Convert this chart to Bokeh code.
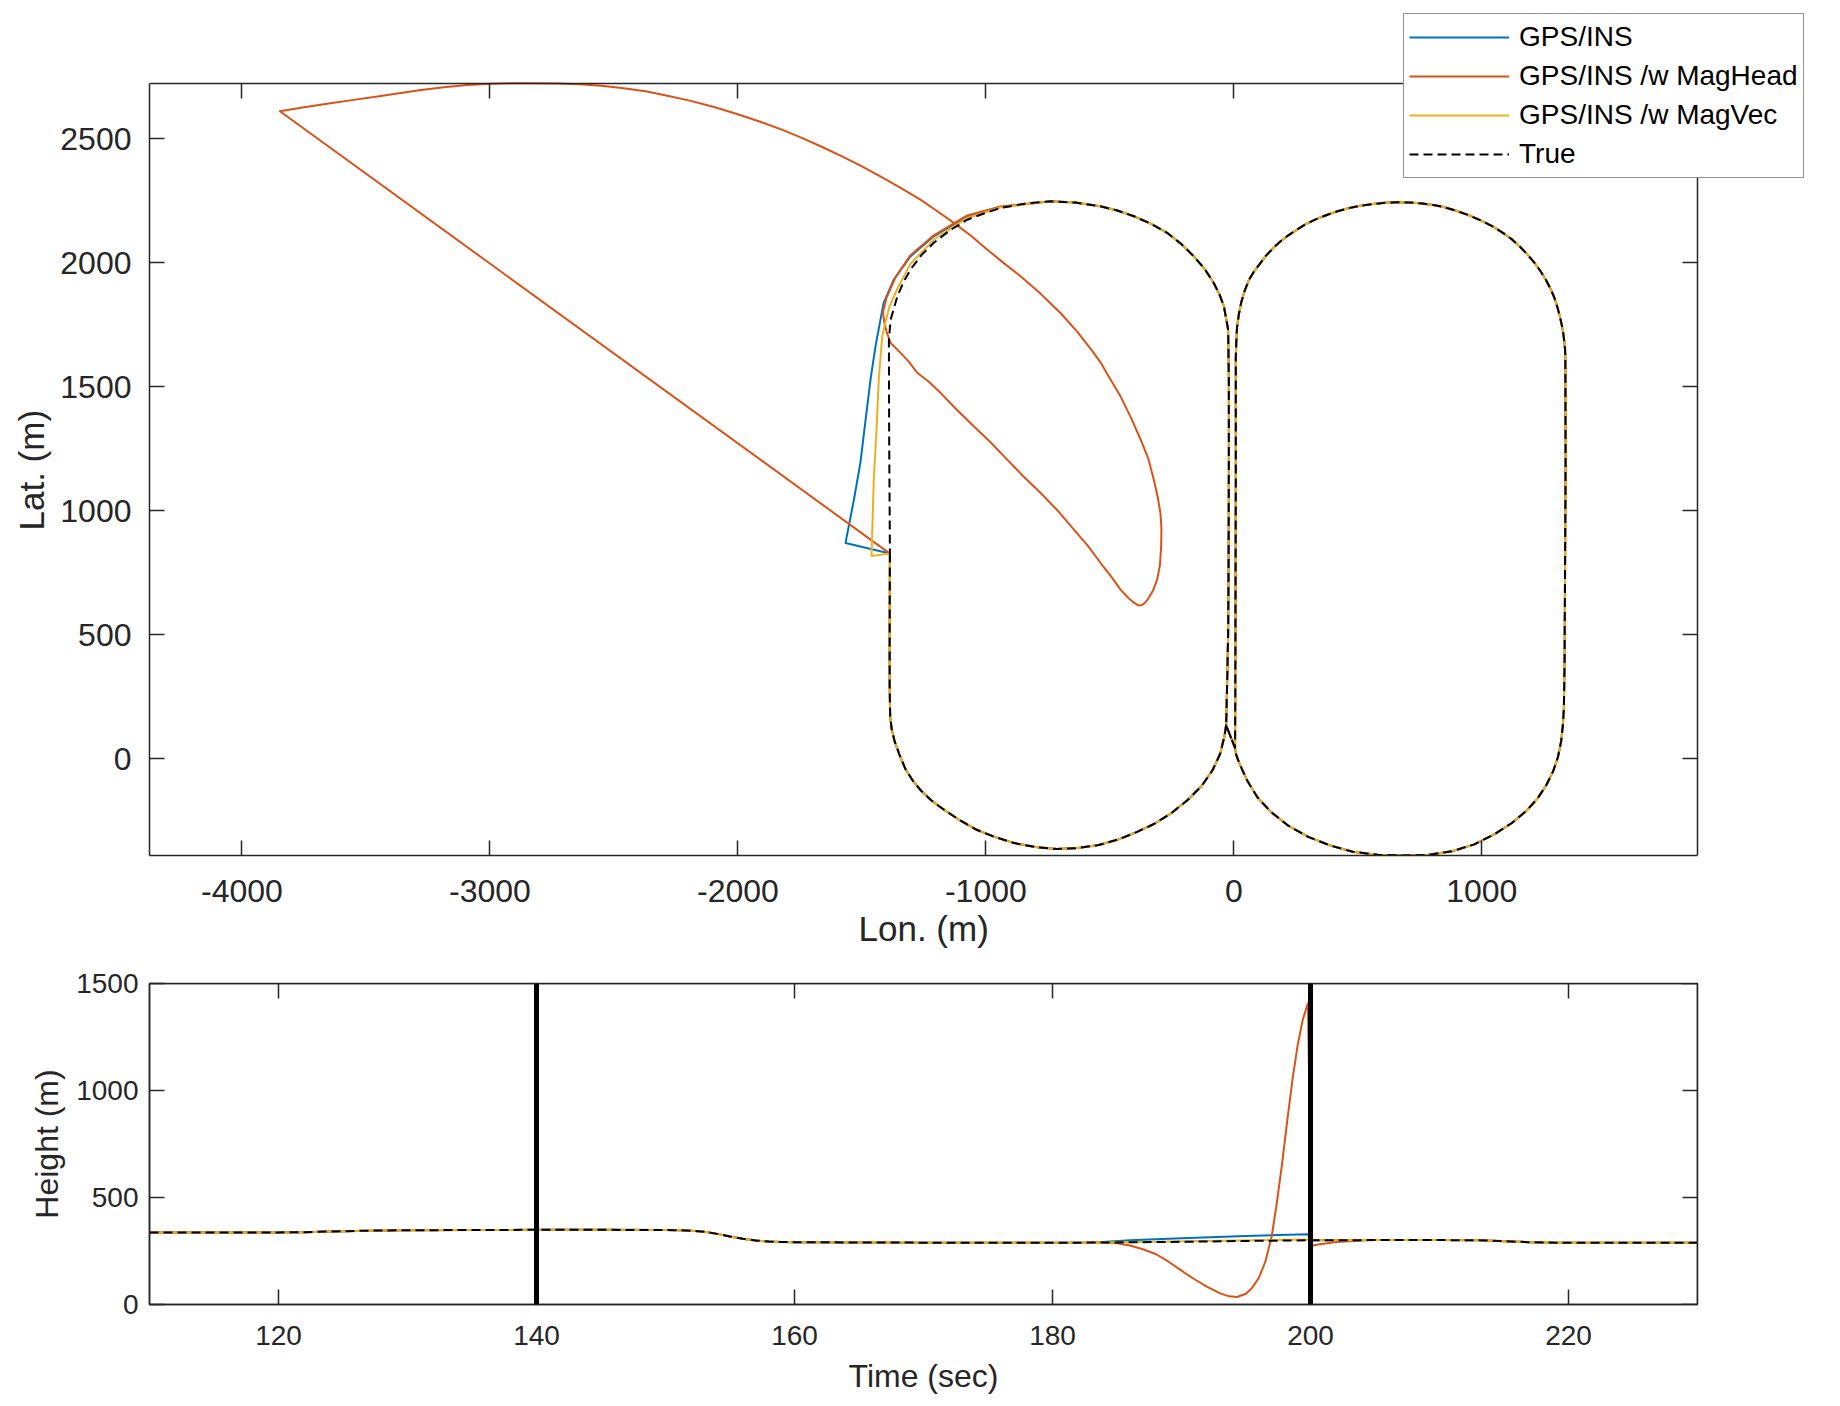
from bokeh.plotting import figure
from bokeh.models import (Range1d, LinearAxis, FixedTicker, Legend, LegendItem,
                          Span, CustomJSTickFormatter, Title)
from bokeh.layouts import column
from bokeh.embed import file_html
from bokeh.resources import INLINE

# ---------------- data ----------------
# Left loop of the true track (counter-clockwise), starting at the GPS re-acquisition point
loopL_x = [-1387, -1388, -1388, -1386, -1380, -1368, -1348, -1325, -1295, -1260, -1215, -1165,
           -1105, -1040, -965, -885, -800, -715, -630, -545, -465, -390, -320, -250, -185,
           -130, -85, -55, -38, -31,
           -27, -23, -21, -20, -20, -23, -40, -58, -81, -118, -161, -212, -269, -335, -403,
           -470, -538, -640, -739,
           -840, -941, -1008, -1075, -1145, -1210, -1260, -1304, -1333, -1357, -1384, -1391,
           -1390, -1388]
loopL_y = [827, 500, 300, 172, 120, 70, 15, -40, -88, -130, -172, -208,
           -248, -285, -315, -340, -356, -364, -360, -348, -325, -295, -262, -218, -165,
           -110, -45, 20, 90, 135,
           300, 500, 800, 1200, 1529, 1730, 1824, 1872, 1918, 1975, 2025, 2075, 2120, 2157, 2187,
           2210, 2227, 2242, 2247,
           2238, 2220, 2198, 2173, 2130, 2080, 2030, 1972, 1920, 1864, 1770, 1690,
           1300, 1000]
LINK_IDX = 29      # point where the track passes to the right loop
OUTAGE_IDX = 48    # point where the estimates begin to separate

# Right loop of the true track (clockwise), starting at the bottom of its left side
loopR_x = [5, 6, 7, 8, 8, 8, 10, 13, 20, 30, 44, 62, 82, 105, 130, 160, 190, 220, 255, 290, 330,
           375, 418, 461, 510, 560, 610, 661, 710, 760, 805, 846, 900, 950, 1000, 1046, 1085,
           1120, 1153, 1184, 1212, 1237, 1259, 1277, 1293, 1305, 1315, 1323, 1329, 1333, 1336,
           1337, 1338, 1336, 1334, 1331,
           1327, 1320, 1307, 1288, 1261, 1225, 1180, 1120, 1050, 970, 880, 780, 680, 580,
           480, 390, 300, 220, 150, 95, 55, 25, 10, 5]
loopR_y = [43, 300, 700, 1100, 1450, 1617, 1680, 1740, 1790, 1840, 1887, 1932, 1965, 1995, 2028,
           2060, 2087, 2110, 2133, 2155, 2174, 2192, 2207, 2219, 2229, 2236, 2241, 2243, 2242,
           2238, 2232, 2224, 2208, 2190, 2168, 2145, 2120, 2095, 2065, 2033, 2000, 1965, 1930,
           1895, 1858, 1820, 1783, 1746, 1713, 1680, 1648,
           1617, 1200, 800, 400, 200,
           135, 70, 6, -50, -105, -160, -210, -260, -305, -345,
           -373, -388, -390, -387, -375, -350, -315, -270, -215, -155, -90, -25, 15, 43]

# Drift of each solution during the GPS outage
ins_dev_x = [-941, -1075, -1210, -1304, -1371, -1412, -1425, -1445, -1465, -1485, -1506, -1532, -1566]
ins_dev_y = [2224, 2187, 2106, 2025, 1932, 1838, 1770, 1663, 1529, 1367, 1193, 1045, 870]

vec_dev_x = [-941, -1075, -1210, -1304, -1357, -1390, -1405, -1418, -1432, -1441, -1452, -1461]
vec_dev_y = [2222, 2180, 2092, 1995, 1895, 1820, 1760, 1703, 1529, 1327, 1126, 817]

head_dev_x = [-941, -1075, -1210, -1304, -1365, -1400, -1415, -1410, -1400, -1384, -1344, -1310,
              -1277, -1230, -1183, -1120, -1049, -980, -914, -850, -780, -710, -645, -590, -538,
              -495, -457, -425, -403, -385, -370, -355, -343, -325, -309, -298, -293, -292, -296,
              -308, -323, -345, -376, -415, -457, -510, -535, -565, -630, -699, -740, -780, -860,
              -930, -995, -1060, -1129, -1200, -1264, -1344, -1420, -1500, -1580, -1660, -1740,
              -1820, -1910, -2007, -2100, -2190, -2280, -2367, -2460, -2550, -2640, -2727, -2820,
              -2910, -2997, -3090, -3177, -3270, -3360, -3447, -3550, -3650, -3750, -3847]
head_dev_y = [2226, 2190, 2110, 2030, 1940, 1860, 1800, 1760, 1720, 1676, 1636, 1600,
              1556, 1520, 1475, 1410, 1340, 1275, 1206, 1140, 1072, 1000, 924, 860, 790,
              735, 682, 648, 629, 618, 620, 632, 649, 680, 723, 780, 857, 930, 991,
              1060, 1126, 1210, 1287, 1375, 1461, 1550, 1594, 1636, 1720, 1797, 1836, 1875, 1945,
              2000, 2053, 2108, 2160, 2210, 2254, 2301, 2345, 2388, 2428, 2466, 2502,
              2535, 2568, 2600, 2628, 2652, 2672, 2690, 2703, 2713, 2719, 2722, 2723,
              2723, 2721, 2716, 2708, 2697, 2684, 2671, 2656, 2641, 2626, 2610]

# Height versus time
true_t = [110, 115, 120, 122, 124, 126, 128, 130, 135, 140, 145, 150, 151, 152, 153, 154, 155,
          156, 157, 158, 159, 160, 165, 170, 175, 180, 182, 185, 190, 195, 200, 205, 210, 213,
          215, 217, 219, 222, 226, 230]
true_h = [337, 337, 337, 338, 341, 344, 346, 347, 348, 349, 349, 348, 347, 345, 340, 330, 318,
          307, 299, 294, 292, 291, 290, 289, 288, 288, 289, 290, 293, 297, 300, 301, 301, 300,
          296, 291, 289, 288, 288, 288]

ins_t = [183, 186, 190, 195, 199.8]
ins_h = [289, 300, 310, 320, 328]

vec_t = [183, 188, 193, 199.8]
vec_h = [289, 293, 298, 304]

head_t = [184, 185, 186, 187, 188, 189, 190, 191, 192, 193, 193.7, 194.3, 195, 195.5, 196, 196.5,
          197, 197.4, 197.8, 198.2, 198.6, 199, 199.4, 199.8, 200.1, 200.6, 202, 204]
head_h = [289, 286, 276, 258, 236, 200, 158, 118, 82, 52, 38, 35, 50, 80, 125, 200,
          320, 480, 660, 860, 1050, 1210, 1330, 1410, 275, 280, 292, 299]

outage_t = [140, 200]

# axis limits of the two boxes
lon_lim = (-4373, 1870)
lat_lim = (-390, 2722)
t_lim = (110, 230)
h_lim = (0, 1500)

x_ticks = [-4000, -3000, -2000, -1000, 0, 1000]
y_ticks = [0, 500, 1000, 1500, 2000, 2500]
t_ticks = [120, 140, 160, 180, 200, 220]
h_ticks = [0, 500, 1000, 1500]

labels = ["GPS/INS", "GPS/INS /w MagHead", "GPS/INS /w MagVec", "True"]

# ---------------- assemble tracks ----------------
true_x = loopL_x[:LINK_IDX + 1] + loopR_x + loopL_x[LINK_IDX:] + [loopL_x[0]]
true_y = loopL_y[:LINK_IDX + 1] + loopR_y + loopL_y[LINK_IDX:] + [loopL_y[0]]


def estimate(dev_x, dev_y):
    xs = loopL_x[:LINK_IDX + 1] + loopR_x + loopL_x[LINK_IDX:OUTAGE_IDX + 1] + dev_x + [loopL_x[0]]
    ys = loopL_y[:LINK_IDX + 1] + loopR_y + loopL_y[LINK_IDX:OUTAGE_IDX + 1] + dev_y + [loopL_y[0]]
    return xs, ys


def height(dev_t, dev_h):
    pre = [(t, h) for t, h in zip(true_t, true_h) if t < dev_t[0]]
    post = [(t, h) for t, h in zip(true_t, true_h) if t > dev_t[-1] and t >= 200]
    ts = [q[0] for q in pre] + dev_t + [q[0] for q in post]
    hs = [q[1] for q in pre] + dev_h + [q[1] for q in post]
    return ts, hs


BLUE, ORANGE, YELLOW = "#0072BD", "#D95319", "#EDB120"
INK = "#262626"
FONT = "Liberation Sans"
LW = 2
W = 1836
H1 = 966
H2 = 439

# geometry of the boxes in page pixels
BOX_L, BOX_R, BOX_T, BOX_B = 149, 1697, 83, 855
BOX2_T, BOX2_B = 983, 1304
PX_X = (BOX_R - BOX_L) / (lon_lim[1] - lon_lim[0])
PX_Y = (BOX_B - BOX_T) / (lat_lim[1] - lat_lim[0])


def line_style(ax):
    ax.major_tick_in = 15
    ax.major_tick_out = 0
    ax.minor_tick_line_color = None
    ax.axis_line_color = INK
    ax.axis_line_width = 1.5
    ax.major_tick_line_color = INK
    ax.major_tick_line_width = 1.5


def style_axis(ax, ticks, label_size, axis_label_size, lab_standoff, ax_standoff):
    ax.ticker = FixedTicker(ticks=ticks)
    ax.major_label_overrides = {v: str(v) for v in ticks}
    line_style(ax)
    ax.major_label_text_font = FONT
    ax.major_label_text_font_size = f"{label_size}px"
    ax.major_label_text_color = INK
    ax.major_label_standoff = lab_standoff
    ax.axis_label_text_font = FONT
    ax.axis_label_text_font_size = f"{axis_label_size}px"
    ax.axis_label_text_font_style = "normal"
    ax.axis_label_text_color = INK
    ax.axis_label_standoff = ax_standoff


def plain_axis(ticks, **kw):
    ax = LinearAxis(ticker=FixedTicker(ticks=ticks),
                    formatter=CustomJSTickFormatter(code="return ''"), **kw)
    line_style(ax)
    ax.major_label_standoff = 0
    ax.major_label_text_font_size = "1px"
    return ax


def box_title(text, **kw):
    return Title(text=text, align="left", text_font=FONT, text_font_size="35px",
                 text_font_style="normal", text_color=INK, **kw)


# ---------------- top: trajectory ----------------
# the plotting frame reaches the page's top and right edges so that the legend can sit
# over the box corner; the box itself is drawn by the four axes
x_end = lon_lim[0] + (W - BOX_L) / PX_X
y_end = lat_lim[0] + BOX_B / PX_Y
p1 = figure(width=W, height=H1, output_backend="svg", toolbar_location=None,
            x_range=Range1d(lon_lim[0], x_end), y_range=Range1d(lat_lim[0], y_end),
            min_border_left=BOX_L, min_border_right=0, min_border_top=0,
            min_border_bottom=H1 - BOX_B, frame_align=False,
            background_fill_color="white", border_fill_color="white")
p1.grid.visible = False
p1.outline_line_color = None
style_axis(p1.xaxis[0], x_ticks, 32, 35, 24, 12)
style_axis(p1.yaxis[0], y_ticks, 32, 35, 18, 10)
p1.xaxis[0].bounds = lon_lim
p1.yaxis[0].bounds = lat_lim
p1.add_layout(plain_axis(x_ticks, fixed_location=lat_lim[1], bounds=lon_lim), "above")
p1.add_layout(plain_axis(y_ticks, fixed_location=lon_lim[1], bounds=lat_lim), "right")
# axis titles centred on the box (not on the enlarged frame)
p1.add_layout(box_title("Lon. (m)", offset=709, standoff=8, vertical_align="top"), "below")
p1.add_layout(box_title("Lat. (m)", offset=325, standoff=14, vertical_align="bottom"), "left")

bx, by = estimate(ins_dev_x, ins_dev_y)
hx, hy = estimate(head_dev_x, head_dev_y)
vx, vy = estimate(vec_dev_x, vec_dev_y)
r_b = p1.line(bx, by, line_color=BLUE, line_width=LW, line_join="round")
r_h = p1.line(hx, hy, line_color=ORANGE, line_width=LW, line_join="round")
r_v = p1.line(vx, vy, line_color=YELLOW, line_width=LW, line_join="round")
r_t = p1.line(true_x, true_y, line_color="black", line_width=LW, line_dash="9 5", line_join="round")

legend = Legend(items=[LegendItem(label=labels[0], renderers=[r_b]),
                       LegendItem(label=labels[1], renderers=[r_h]),
                       LegendItem(label=labels[2], renderers=[r_v]),
                       LegendItem(label=labels[3], renderers=[r_t])],
                location=(1403 - BOX_L, BOX_B - 178),
                label_text_font=FONT, label_text_font_size="28px", label_text_color="black",
                glyph_width=100, glyph_height=36, label_height=36, label_standoff=10,
                spacing=3, padding=5, margin=0,
                border_line_color=INK, border_line_width=1.5,
                background_fill_color="white", background_fill_alpha=1.0)
p1.add_layout(legend)

# ---------------- bottom: height ----------------
p2 = figure(width=W, height=H2, output_backend="svg", toolbar_location=None,
            x_range=Range1d(*t_lim), y_range=Range1d(*h_lim),
            min_border_left=BOX_L, min_border_right=W - BOX_R, min_border_top=BOX2_T - H1,
            min_border_bottom=H2 - (BOX2_B - H1), frame_align=False,
            background_fill_color="white", border_fill_color="white")
p2.grid.visible = False
p2.outline_line_color = INK
p2.outline_line_width = 1.5
p2.xaxis.axis_label = "Time (sec)"
p2.yaxis.axis_label = "Height (m)"
style_axis(p2.xaxis[0], t_ticks, 28, 32, 21, 10)
style_axis(p2.yaxis[0], h_ticks, 28, 32, 11, 8)
p2.add_layout(plain_axis(t_ticks, fixed_location=h_lim[1]), "above")
p2.add_layout(plain_axis(h_ticks, fixed_location=t_lim[1]), "right")

tb, hb = height(ins_t, ins_h)
th, hh = height(head_t, head_h)
tv, hv = height(vec_t, vec_h)
p2.line(tb, hb, line_color=BLUE, line_width=LW)
p2.line(th, hh, line_color=ORANGE, line_width=LW)
p2.line(tv, hv, line_color=YELLOW, line_width=LW)
p2.line(true_t, true_h, line_color="black", line_width=LW, line_dash="9 5")
for t in outage_t:
    p2.add_layout(Span(location=t, dimension="height", line_color="black", line_width=5))

layout = column(p1, p2, spacing=0)
open("out.html", "w").write(file_html(layout, INLINE))
